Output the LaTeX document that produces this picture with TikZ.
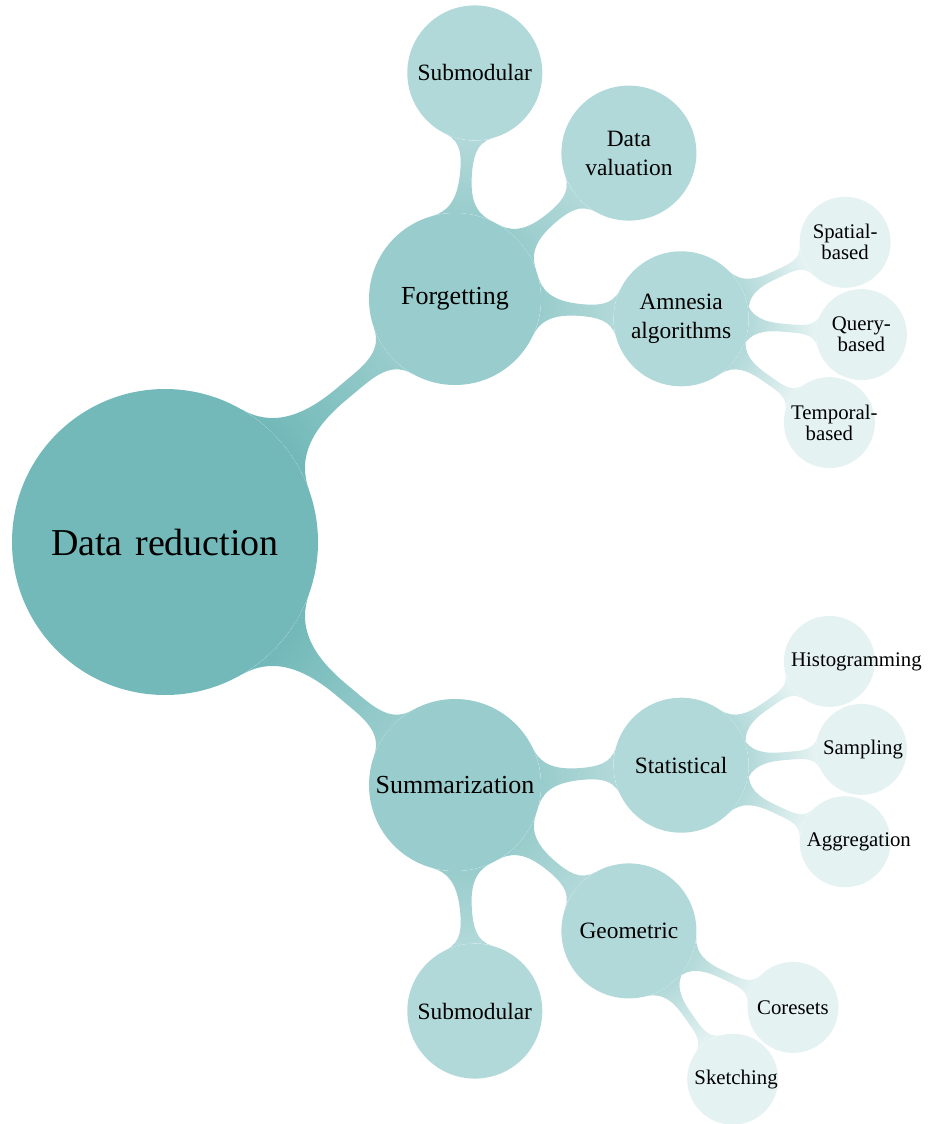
\documentclass[tikz,border=0pt]{standalone}
\usepackage{fontspec}
\setmainfont{Liberation Serif}
\usetikzlibrary{mindmap,backgrounds}

\colorlet{lvzero}{teal!55}
\colorlet{lvone}{teal!40}
\colorlet{lvtwo}{teal!30}
\colorlet{lvthree}{teal!10}

% long leaf words run out of their circles instead of being split
\hyphenpenalty=10000

\tikzset{
  idea/.style={circle,inner sep=0pt,align=center,text=black},
  rootidea/.style={idea,fill=lvzero,minimum size=306pt,text width=240pt,
    font=\fontsize{38}{44}\selectfont},
  mainidea/.style={idea,fill=lvone,minimum size=172pt,text width=165pt,
    font=\fontsize{26}{31}\selectfont},
  subidea/.style={idea,fill=lvtwo,minimum size=135pt,text width=122pt,
    font=\fontsize{23.4}{29}\selectfont},
  leafidea/.style={idea,fill=lvthree,minimum size=91pt,text width=76.5pt,
    font=\fontsize{20.8}{21}\selectfont},
}

\begin{document}
\begin{tikzpicture}[x=1pt,y=-1pt]
  \useasboundingbox (0,0) rectangle (929,1124);
  % root and first level
  \node[rootidea] (root) at (165,542) {Data reduction};
  \node[mainidea] (forget) at (455,299) {Forgetting};
  \node[mainidea] (summ) at (455,785) {Summarization};
  % second level
  \node[subidea] (subf) at (474.8,72.9) {Submodular};
  \node[subidea] (dval) at (628.9,153.1) {Data\\valuation};
  \node[subidea] (amn) at (681.1,318.8) {Amnesia\\algorithms};
  \node[subidea] (stat) at (681.1,765.2) {Statistical};
  \node[subidea] (geo) at (628.9,930.9) {Geometric};
  \node[subidea] (subs) at (474.8,1011.1) {Submodular};
  % leaves
  \node[leafidea] (spat) at (845.1,242.3) {\mbox{Spatial-}\\based};
  \node[leafidea] (query) at (861.4,334.6) {\mbox{Query-}\\based};
  \node[leafidea] (temp) at (829.4,422.6) {\mbox{Temporal-}\\based};
  \node[leafidea] (hist) at (829.4,661.4) {Histogramming};
  \node[leafidea] (samp) at (861.4,749.4) {Sampling};
  \node[leafidea] (aggr) at (845.1,841.7) {Aggregation};
  \node[leafidea] (core) at (793.0,1007.4) {Coresets};
  \node[leafidea] (sket) at (732.7,1079.2) {Sketching};

  % connection bars behind the circles
  \begin{pgfonlayer}{background}
    \foreach \a/\b/\ca/\cb/\w in {root/forget/lvzero/lvone/13pt,
        root/summ/lvzero/lvone/13pt,
        forget/subf/lvone/lvtwo/11pt, forget/dval/lvone/lvtwo/11pt,
        forget/amn/lvone/lvtwo/11pt, summ/stat/lvone/lvtwo/11pt,
        summ/geo/lvone/lvtwo/11pt, summ/subs/lvone/lvtwo/11pt,
        amn/spat/lvtwo/lvthree/7.5pt, amn/query/lvtwo/lvthree/7.5pt,
        amn/temp/lvtwo/lvthree/7.5pt, stat/hist/lvtwo/lvthree/7.5pt,
        stat/samp/lvtwo/lvthree/7.5pt, stat/aggr/lvtwo/lvthree/7.5pt,
        geo/core/lvtwo/lvthree/7.5pt, geo/sket/lvtwo/lvthree/7.5pt}
      \path[line width=\w] (\a) to[circle connection bar switch color=from (\ca) to (\cb)] (\b);
  \end{pgfonlayer}
\end{tikzpicture}
\end{document}
